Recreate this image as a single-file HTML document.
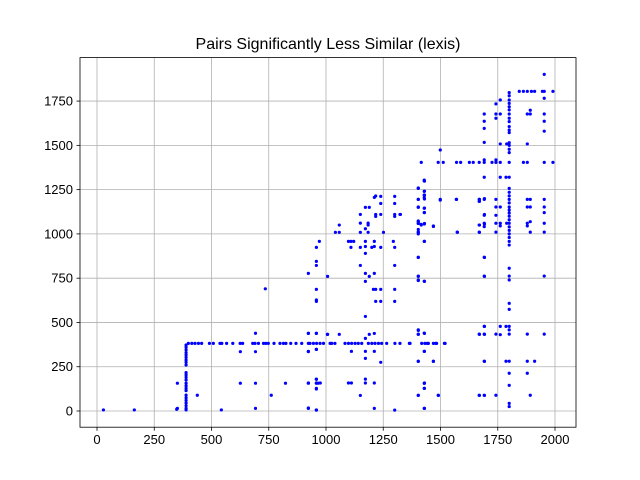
<!DOCTYPE html>
<html><head><meta charset="utf-8"><style>
body{margin:0;background:#fff}
svg{display:block;font-family:"Liberation Sans","DejaVu Sans",sans-serif}
</style></head><body>
<svg id="chart" width="640" height="480" viewBox="0 0 640 480">
<rect x="0" y="0" width="640" height="480" fill="#fff"/>
<text x="328" y="49" font-size="16" text-anchor="middle" fill="#000">Pairs Significantly Less Similar (lexis)</text>
<g id="grid"></g>
<g id="points"></g>
<g id="axes"></g>
</svg>
<script>
const xTicks=[0,250,500,750,1000,1250,1500,1750,2000];
const yTicks=[0,250,500,750,1000,1250,1500,1750];
const colX389Ys=[373,360,345,330,317,303,288,275,260,217,204,190,175,157,142,128,115,90,75,60,45,30,15,6];
const rowY382Xs=[399,414,428,443,457,491,508,537,545,566,593,625,636,680,690,705,727,737,748,773,799,814,825,846,869,894,923,930,945,959,974,989,1018,1025,1039,1083,1098,1112,1127,1141,1156,1185,1200,1214,1229,1243,1265,1301,1323,1367,1418,1432,1447,1469,1483,1520];
const col1800Ys=[1798,1780,1756,1737,1718,1700,1677,1653,1634,1606,1587,1572,1515,1500,1478,1459,1404,1320,1257,1235,1215,1195,1175,1152,1135,1118,1100,1080,1060,1040,1020,1000,980,958,937,806,762,740,608,574,478,458,434,281,213,145,43,25];
const row1404Xs=[1416,1490,1512,1570,1588,1626,1643,1669,1691,1725,1742,1761,1862,1879,1953,1991];
const row1805Xs=[1844,1862,1879,1897,1911,1945,1953,1991];
const lowPts=[[28,6],[163,6],[348,10],[351,15],[351,157],[438,89],[543,6],[626,335],[626,157],[692,439],[692,335],[692,157],[692,15],[761,89],[823,157],[923,439],[923,335],[923,157],[923,17],[958,627],[958,439],[958,348],[958,179],[958,157],[966,157],[958,128],[958,6],[1006,433],[735,690]];
const midPts=[[1403,1257],[1430,1298],[1430,1242],[1430,1219],[1430,1197],[1403,1195],[1499,1191],[1569,1195],[1670,1195],[1670,1184],[1692,1199],[1692,1110],[1670,1050],[1692,1056],[1670,1009],[1574,1009],[1469,1042],[1403,1073],[1403,1059],[1415,1054],[1430,1059],[1403,1025],[1403,1010],[1430,1146],[1430,1121],[1403,1150],[1300,1212],[1300,1172],[1300,1110],[1300,1099],[1325,1110],[1239,1212],[1239,1172],[1239,1110],[1217,1214],[1211,1206],[1217,1110],[1217,1099],[1189,1150],[1172,1150],[1150,1110],[1150,1061],[1184,1061],[1184,1050],[1172,1029],[1184,1009],[1058,1050],[1041,1009],[1058,1009],[1150,1009],[1251,1009],
[971,958],[958,924],[958,845],[958,822],[923,777],[1007,760],[1098,958],[1109,958],[1121,958],[1109,924],[1172,958],[1211,958],[1150,924],[1172,929],[1172,890],[1200,924],[1211,929],[1239,924],[1150,822],[1172,777],[1189,760],[1211,777],[1172,732],[1294,958],[1300,924],[1300,822],[1403,867],[1430,958],[1403,760],[1403,737],[1430,732],[1692,867],[1692,760],[958,687],[958,619],[1172,534],[1207,687],[1217,687],[1239,687],[1217,619],[1239,619],[1300,687],[1300,619],
[923,438],[958,438],[923,337],[958,348],[1007,433],[1058,433],[1172,410],[1189,433],[1211,438],[1172,337],[1211,337],[1172,297],[1239,275],[1111,337],[1403,455],[1403,433],[1430,438],[1430,337],[1403,280],[1469,280],[1692,478],[1670,433],[1692,433],[1692,280],[923,158],[958,180],[958,158],[975,158],[958,124],[1098,158],[1111,158],[1172,180],[1172,158],[1211,158],[1150,88],[1430,158],[1430,128],[1403,88],[1491,88],[1670,88],[1692,88],[923,15],[958,5],[1211,15],[1300,5],[1430,15]];
const highPts=[[1953,1901],[1953,1766],[1761,1756],[1742,1734],[1691,1677],[1691,1636],[1691,1596],[1691,1517],[1742,1677],[1742,1653],[1761,1677],[1879,1677],[1892,1677],[1892,1698],[1953,1677],[1953,1636],[1953,1580],[1761,1508],[1789,1508],[1879,1508],[1499,1474],[1691,1418],[1742,1418],[1691,1320],[1761,1320],[1786,1320],
[1429,1304],[1429,1300],[1403,1259],[1429,1240],[1429,1220],[1429,1205],[1403,1195],[1499,1195],[1570,1195],[1669,1195],[1669,1184],[1691,1195],[1742,1195],[1879,1195],[1892,1195],[1953,1195],[1403,1152],[1429,1145],[1429,1120],[1691,1105],[1742,1152],[1761,1152],[1879,1152],[1892,1152],[1953,1152],[1953,1120],[1742,1105],[1323,1110],
[1403,1069],[1403,1060],[1416,1050],[1429,1056],[1469,1045],[1669,1050],[1691,1060],[1691,1041],[1742,1060],[1761,1060],[1761,1045],[1789,1060],[1879,1060],[1879,1045],[1892,1069],[1953,1060],[1403,1010],[1403,1000],[1573,1010],[1669,1010],[1742,1010],[1892,1010],[1953,1010],[1429,958],[1403,868],[1691,868],
[1403,762],[1403,740],[1429,733],[1691,762],[1953,762],
[1403,458],[1403,434],[1429,440],[1691,478],[1669,434],[1691,434],[1742,434],[1761,478],[1761,431],[1786,478],[1879,434],[1953,434],
[1364,382],[1442,382],[1479,382],[1517,382],[1429,337],[1403,281],[1469,281],[1691,281],[1786,281],[1879,281],[1911,281],[1879,213],[1429,156],[1429,128],[1403,89],[1490,89],[1669,89],[1691,89],[1742,89],[1892,89],[1429,15]];
const x0=97,xk=0.229,y0=411,yk=0.1771;
function X(v){return x0+v*xk;}
function Y(v){return y0-v*yk;}
const NS='http://www.w3.org/2000/svg';
const L=80,R=576,T=57.6,B=427.2;
const grid=document.getElementById('grid'),axes=document.getElementById('axes'),pts=document.getElementById('points');
function mk(tag,attrs,parent){const e=document.createElementNS(NS,tag);for(const k in attrs)e.setAttribute(k,attrs[k]);parent.appendChild(e);return e;}
xTicks.forEach(t=>{
 const g=mk('line',{x1:X(t),x2:X(t),y1:T,y2:B,stroke:'#b0b0b0','stroke-width':0.8},grid);
 
 
 const tk=mk('line',{x1:X(t),x2:X(t),y1:B,y2:B+3.5,stroke:'#000','stroke-width':0.8},axes);
 
 
 const tx=mk('text',{x:X(t),y:B+17,'font-size':13,'text-anchor':'middle',fill:'#000'},axes);
 tx.textContent=t;
 
 
});
yTicks.forEach(t=>{
 const g=mk('line',{x1:L,x2:R,y1:Y(t),y2:Y(t),stroke:'#b0b0b0','stroke-width':0.8},grid);
 
 
 const tk=mk('line',{x1:L-3.5,x2:L,y1:Y(t),y2:Y(t),stroke:'#000','stroke-width':0.8},axes);
 
 
 const tx=mk('text',{x:L-7,y:Y(t)+4.5,'font-size':13,'text-anchor':'end',fill:'#000'},axes);
 tx.textContent=t;
 
 
});
const fr=mk('rect',{x:L,y:T,width:R-L,height:B-T,fill:'none',stroke:'#000','stroke-width':0.8},axes);


const all=[];
colX389Ys.forEach(v=>all.push([389,v]));
rowY382Xs.forEach(v=>all.push([v,382]));
col1800Ys.forEach(v=>all.push([1800,v]));
row1404Xs.forEach(v=>all.push([v,1404]));
row1805Xs.forEach(v=>all.push([v,1805]));
lowPts.concat(midPts,highPts).forEach(p=>all.push(p));
all.forEach(p=>{
 const c=mk('circle',{cx:X(p[0]),cy:Y(p[1]),r:1.6,fill:'#0000ff'},pts);
 
 
});
</script>
</body></html>
